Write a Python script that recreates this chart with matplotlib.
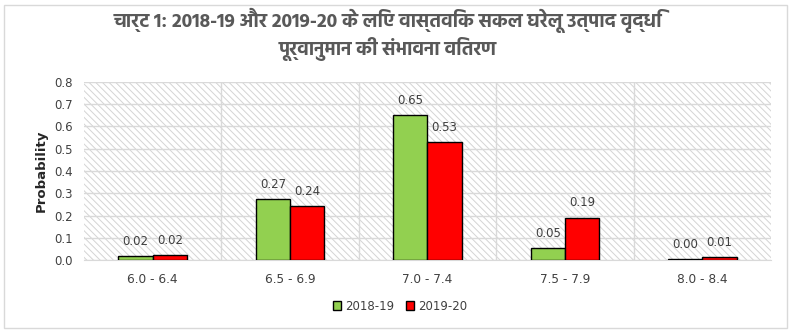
import matplotlib
matplotlib.use("Agg")
import matplotlib.pyplot as plt
from matplotlib.patches import Rectangle
import numpy as np

categories = ["6.0 - 6.4", "6.5 - 6.9", "7.0 - 7.4", "7.5 - 7.9", "8.0 - 8.4"]
fy2019 = [0.017, 0.274, 0.65, 0.052, 0.003]
fy2020 = [0.021, 0.242, 0.53, 0.19, 0.012]
series_names = ["2018-19", "2019-20"]
title = "चार्ट 1: 2018-19 और 2019-20 के लिए वास्तविक सकल घरेलू उत्पाद वृद्धि\nपूर्वानुमान की संभावना वितरण"

plt.rcParams["hatch.linewidth"] = 0.7

fig = plt.figure(figsize=(7.92, 3.33), dpi=100)
ax = fig.add_axes([0.106, 0.219, 0.8675, 0.535])

# outer chart frame
fig.patches.append(Rectangle((4 / 792, 5 / 333), 783 / 792, 323 / 333, transform=fig.transFigure,
                             fill=False, edgecolor="#d9d9d9", lw=1))

# hatched plot background
ax.add_patch(Rectangle((0, 0), 1, 1, transform=ax.transAxes, facecolor="white",
                       edgecolor="#d4d4d4", hatch="\\" * 5, lw=0, zorder=0))

x = np.arange(len(categories))
w = 0.25
b1 = ax.bar(x - w / 2, fy2019, w, color="#92d050", edgecolor="black", lw=1, label=series_names[0], zorder=3)
b2 = ax.bar(x + w / 2, fy2020, w, color="#ff0000", edgecolor="black", lw=1, label=series_names[1], zorder=3)

for bars in (b1, b2):
    for r in bars:
        ax.annotate(f"{r.get_height():.2f}", (r.get_x() + r.get_width() / 2, r.get_height()),
                    xytext=(0, 6), textcoords="offset points", ha="center", va="bottom",
                    fontsize=8.5, color="#404040", zorder=4)

ax.set_xlim(-0.5, 4.5)
ax.set_ylim(0, 0.8)
ticks = np.arange(0, 0.81, 0.1)
ax.set_yticks(ticks)
ax.set_yticklabels([f"{v:.1f}" for v in ticks], fontsize=8.5, color="#404040")
ax.set_xticks(x)
ax.set_xticklabels(categories, fontsize=8.7, color="#404040")
for v in np.arange(0.5, 4.5, 1):
    ax.axvline(v, color="#d9d9d9", lw=1, zorder=1)
ax.grid(axis="y", color="#d9d9d9", lw=1, zorder=1)
ax.set_axisbelow(True)
ax.tick_params(length=0)
ax.tick_params(axis="y", pad=8)
ax.tick_params(axis="x", pad=9)
for s in ["top", "right", "left"]:
    ax.spines[s].set_visible(False)
ax.spines["bottom"].set_color("#d9d9d9")
ax.set_ylabel("Probability", fontsize=9.5, fontweight="bold", color="#262626", labelpad=5)

fig.text(0.49, 0.975, title, ha="center", va="top", fontsize=14, fontweight="bold",
         color="#595959", linespacing=1.2, family=["Hind", "DejaVu Sans"])

fig.legend(handles=[b1, b2], loc="center", bbox_to_anchor=(0.505, 0.081), ncol=2, frameon=False,
           handlelength=0.7, handleheight=0.7, handletextpad=0.3, columnspacing=1.0,
           fontsize=8.5, labelcolor="#404040")

fig.savefig("out.png", dpi=100)
